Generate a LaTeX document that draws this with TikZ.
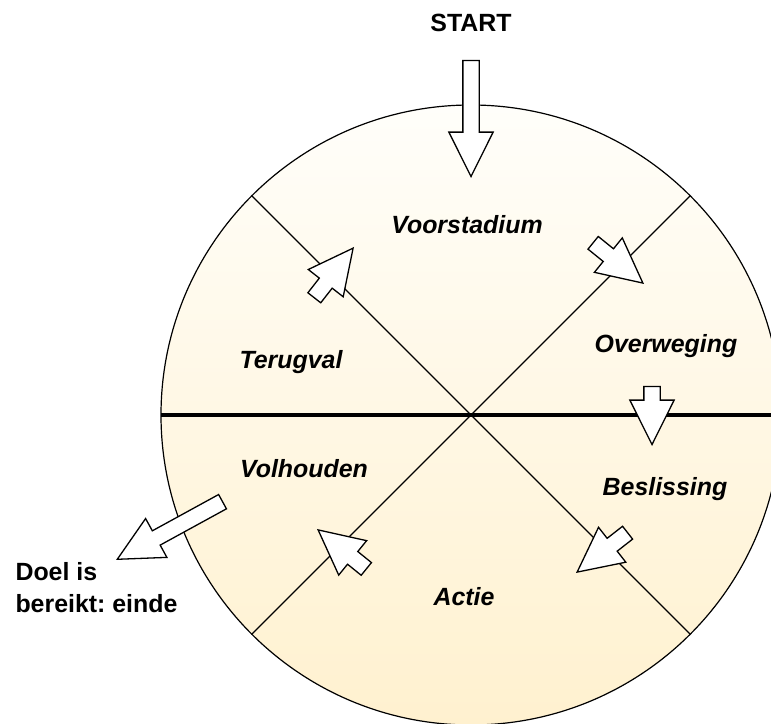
\documentclass[tikz,border=0pt]{standalone}
\usepackage{fontspec}
\setmainfont{Liberation Sans}
\usetikzlibrary{shapes.arrows}
\definecolor{creamtop}{RGB}{255,254,250}
\definecolor{creambottom}{RGB}{255,241,207}
\tikzset{
  fase/.style={font=\fontsize{25}{30}\selectfont\bfseries\itshape},
  kop/.style={font=\fontsize{25}{32}\selectfont\bfseries\frenchspacing},
  blokpijl/.style={draw,fill=white,line width=1.3bp,single arrow,inner xsep=0pt,inner ysep=7.5bp,
    single arrow head extend=14bp,single arrow tip angle=53,anchor=tip},
}
\begin{document}
\begin{tikzpicture}[line join=miter]
\useasboundingbox (0bp,0bp) rectangle (771bp,724bp);
\clip (0bp,0bp) rectangle (771bp,724bp);
%%
\coordinate (hub) at (471bp,309bp);
\coordinate (nw) at (251.8bp,528.2bp);
\coordinate (ne) at (690.2bp,528.2bp);
\coordinate (sw) at (251.8bp,89.8bp);
\coordinate (se) at (690.2bp,89.8bp);
\coordinate (west) at (161bp,309bp);
\coordinate (east) at (781bp,309bp);
  \path [draw,line width=1.2bp,top color=creamtop,bottom color=creambottom] (hub) circle (310bp);
  \draw [line width=1.1bp] (nw) -- (se);
  \draw [line width=1.1bp] (ne) -- (sw);
  \draw [line width=4bp] (west) -- (east);
%
\node (start) at (471bp,701bp) [kop] {START};
  \node (voorstadium) at (467bp,499bp) [fase] {Voorstadium};
  \node (overweging) at (666bp,378bp) [fase] {Overweging};
  \node (terugval) at (291bp,362bp) [fase] {Terugval};
  \node (volhouden) at (304bp,255bp) [fase] {Volhouden};
  \node (beslissing) at (665bp,235bp) [fase] {Beslissing};
  \node (actie) at (464bp,127bp) [fase] {Actie};
  \node (doel) at (12bp,136bp) [kop,align=left,anchor=west] {Doel is\\bereikt: einde};
%
\node (pijl_start) at (471bp,546bp) [blokpijl,minimum height=116bp,rotate=-90] {};
  \node (pijl_nw) at (354bp,477bp) [blokpijl,minimum height=63bp,rotate=52] {};
  \node (pijl_ne) at (644bp,440bp) [blokpijl,minimum height=64bp,rotate=-39] {};
  \node (pijl_o) at (652bp,278bp) [blokpijl,minimum height=58bp,rotate=-90] {};
  \node (pijl_zo) at (576bp,151bp) [blokpijl,minimum height=64bp,rotate=218] {};
  \node (pijl_zw) at (317bp,195bp) [blokpijl,minimum height=62bp,rotate=141] {};
  \node (pijl_uit) at (116bp,164bp) [blokpijl,minimum height=120bp,rotate=208.7] {};
%
\end{tikzpicture}
\end{document}
